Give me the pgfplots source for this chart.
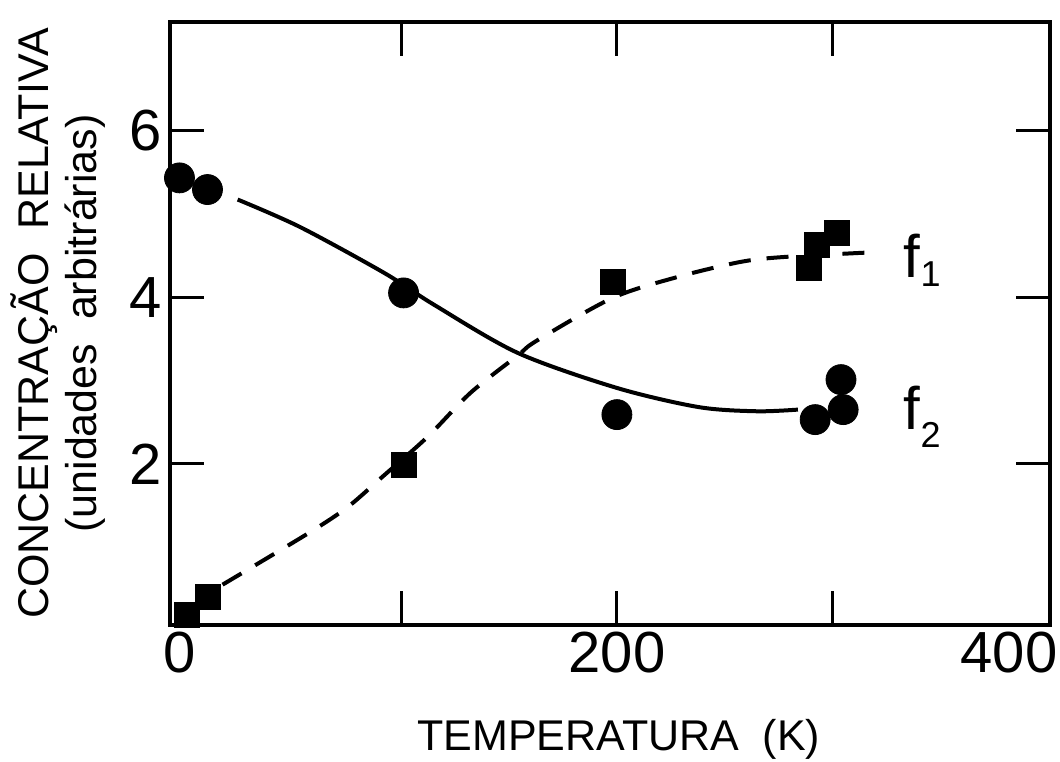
\documentclass[border=0pt]{standalone}
\usepackage{fontspec}
\setmainfont{Liberation Sans}
\usepackage{pgfplots}
\pgfplotsset{compat=1.18}
\begin{document}
\begin{tikzpicture}
\begin{axis}[
  scale only axis, width=440pt, height=301.5pt,
  xmin=-7.4, xmax=401, ymin=0.066, ymax=7.3,
  xtick={100,200,300}, xticklabels={,200,},
  extra x ticks={-3,382}, extra x tick labels={0,400},
  extra x tick style={major tick length=0pt},
  ytick={2,4,6},
  tick align=inside, tick pos=both, ticklabel pos=left,
  major tick length=17pt,
  every tick/.style={black, line width=1.5pt},
  axis line style={line width=2pt},
  tick label style={font=\fontsize{29}{29}\selectfont},
  /pgf/number format/assume math mode=true,
  xticklabel style={inner sep=0pt, yshift=-3.5pt},
  yticklabel style={inner sep=0pt, xshift=-4pt},
  xlabel={TEMPERATURA\ \ (K)},
  xlabel style={font=\fontsize{21.5}{21.5}\selectfont, at={(axis description cs:0.51,-0.208)}, anchor=base, inner sep=0pt},
  ylabel={CONCENTRAÇÃO\ \ RELATIVA\\(unidades\ \ arbitrárias)},
  ylabel style={font=\fontsize{21.5}{24}\selectfont, align=center, at={(axis description cs:-0.073,0.5)}, anchor=south, inner sep=0pt},
  clip=false,
]
% f2 curve (solid)
\addplot[black, line width=2pt, smooth, no marks] coordinates {
  (24,5.17) (53,4.84) (92,4.29) (115,3.91) (154,3.33) (200,2.91) (238,2.68) (265,2.63) (284,2.65)};
% f1 curve (dashed)
\addplot[black, line width=2pt, smooth, no marks, dash pattern=on 11pt off 8pt] coordinates {
  (17,0.55) (57,1.17) (75,1.48) (91,1.84) (112,2.32) (132,2.85) (154,3.30) (163,3.48) (198,3.99) (228,4.24) (257,4.42) (277,4.48) (321,4.54)};
% f2 points (circles)
\addplot[only marks, mark=*, mark size=7.5pt, black] coordinates {
  (-3,5.43) (10,5.29) (101,4.05) (200,2.59) (292,2.53) (305,2.65) (304,3.01)};
% f1 points (squares)
\addplot[only marks, mark=square*, mark size=6.25pt, black] coordinates {
  (0.5,0.19) (10,0.40) (101,1.99) (198,4.18) (289,4.35) (293,4.63) (302,4.77)};
\node[anchor=base west, inner sep=0pt, font=\fontsize{30}{30}\selectfont] at (axis cs:333,4.23) {f\raisebox{-4.5pt}{\fontsize{18}{18}\selectfont 1}};
\node[anchor=base west, inner sep=0pt, font=\fontsize{30}{30}\selectfont] at (axis cs:333,2.41) {f\raisebox{-9pt}{\fontsize{18}{18}\selectfont 2}};
\coordinate (LL) at (rel axis cs:0,0);
\coordinate (UR) at (rel axis cs:1,1);
\end{axis}
\pgfresetboundingbox
\path ([shift={(-85pt,-68pt)}]LL) rectangle ([shift={(5pt,11pt)}]UR);
\end{tikzpicture}
\end{document}
